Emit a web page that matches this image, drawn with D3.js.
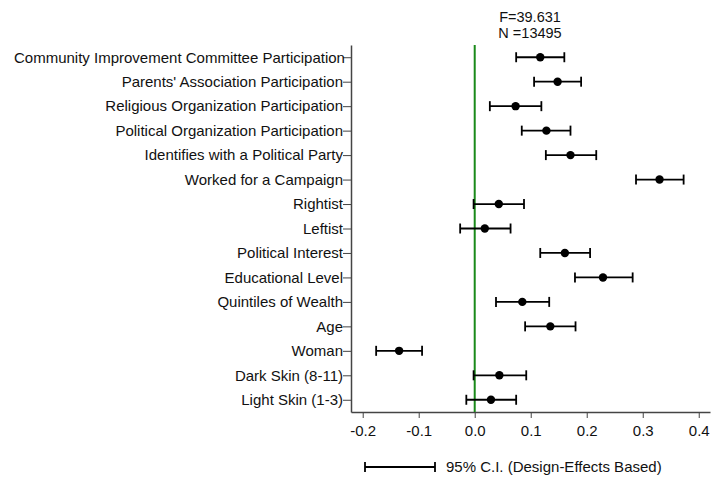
<!DOCTYPE html>
<html>
<head>
<meta charset="utf-8">
<script src="https://cdn.jsdelivr.net/npm/d3@7.9.0/dist/d3.min.js"></script>
<style>
  body { margin: 0; background: #fff; }
  text { font-family: "Liberation Sans", Arial, sans-serif; fill: #111; }
</style>
</head>
<body>
<svg id="chart" width="722" height="481"></svg>
<script>
// categories, top to bottom
const labels = [
  "Community Improvement Committee Participation",
  "Parents' Association Participation",
  "Religious Organization Participation",
  "Political Organization Participation",
  "Identifies with a Political Party",
  "Worked for a Campaign",
  "Rightist",
  "Leftist",
  "Political Interest",
  "Educational Level",
  "Quintiles of Wealth",
  "Age",
  "Woman",
  "Dark Skin (8-11)",
  "Light Skin (1-3)"
];
const estimates = [0.117, 0.148, 0.073, 0.128, 0.171, 0.330, 0.043, 0.018, 0.161, 0.229, 0.085, 0.135, -0.135, 0.044, 0.029];
const lower     = [0.074, 0.106, 0.027, 0.084, 0.127, 0.288, -0.002, -0.026, 0.117, 0.179, 0.038, 0.090, -0.176, -0.002, -0.015];
const upper     = [0.160, 0.190, 0.119, 0.171, 0.217, 0.373, 0.088, 0.064, 0.206, 0.282, 0.133, 0.180, -0.094, 0.092, 0.074];
const xTicks = [-0.2, -0.1, 0.0, 0.1, 0.2, 0.3, 0.4];
const statF = "F=39.631";
const statN = "N =13495";
const legendText = "95% C.I. (Design-Effects Based)";

const svg = d3.select('#chart');
const plotLeft = 351, plotRight = 710, plotTop = 45, plotBottom = 412;
const fontSize = '15px';

const x = d3.scaleLinear().domain([-0.2209, 0.4201]).range([plotLeft, plotRight]);
const y = d3.scalePoint().domain(labels).range([plotTop, plotBottom]).padding(0.5);

// axes
const axisColor = '#444';
const yAxis = svg.append('g')
  .attr('transform', `translate(${plotLeft},0)`)
  .call(d3.axisLeft(y).tickSize(8).tickSizeOuter(0));
yAxis.select('.domain').attr('stroke', axisColor).attr('stroke-width', 1.5);
yAxis.selectAll('.tick line').attr('stroke', axisColor);
yAxis.selectAll('.tick text')
  .attr('x', -8)
  .style('font-size', fontSize)
  .style('font-family', '"Liberation Sans", Arial, sans-serif')
  .attr('fill', '#111')
  .each(function () {
    // long labels get pushed right so they stay inside the left margin
    const b = this.getBBox();
    const minX = 14 - plotLeft;
    if (b.x < minX) d3.select(this).attr('x', -8 + (minX - b.x));
  });

const xAxis = svg.append('g')
  .attr('transform', `translate(0,${plotBottom})`)
  .call(d3.axisBottom(x).tickValues(xTicks).tickFormat(d => d.toFixed(1)).tickSize(6).tickSizeOuter(0));
xAxis.select('.domain').attr('stroke', axisColor).attr('stroke-width', 1.5);
xAxis.selectAll('.tick line').attr('stroke', axisColor);
xAxis.selectAll('.tick text')
  .attr('dy', '1.0em')
  .style('font-size', fontSize)
  .style('font-family', '"Liberation Sans", Arial, sans-serif')
  .attr('fill', '#111');

// zero reference line
svg.append('line')
  .attr('x1', x(0)).attr('x2', x(0))
  .attr('y1', plotTop).attr('y2', plotBottom)
  .attr('stroke', '#1a8a1a').attr('stroke-width', 2);

// error bars + points
const rows = labels.map((l, i) => ({ label: l, est: estimates[i], lo: lower[i], hi: upper[i] }));
const g = svg.append('g');
const capH = 5;
rows.forEach(d => {
  const cy = y(d.label);
  g.append('line').attr('x1', x(d.lo)).attr('x2', x(d.hi)).attr('y1', cy).attr('y2', cy)
    .attr('stroke', '#000').attr('stroke-width', 1.8);
  [d.lo, d.hi].forEach(v => {
    g.append('line').attr('x1', x(v)).attr('x2', x(v)).attr('y1', cy - capH).attr('y2', cy + capH)
      .attr('stroke', '#000').attr('stroke-width', 1.8);
  });
  g.append('circle').attr('cx', x(d.est)).attr('cy', cy).attr('r', 4.2).attr('fill', '#000');
});

// stats text
svg.append('text').attr('x', 530).attr('y', 22).attr('text-anchor', 'middle')
  .style('font-size', '14.5px').text(statF);
svg.append('text').attr('x', 530).attr('y', 38).attr('text-anchor', 'middle')
  .style('font-size', '14.5px').text(statN);

// legend
const ly = 467;
svg.append('line').attr('x1', 365).attr('x2', 435).attr('y1', ly).attr('y2', ly)
  .attr('stroke', '#000').attr('stroke-width', 1.8);
[365, 435].forEach(v => {
  svg.append('line').attr('x1', v).attr('x2', v).attr('y1', ly - capH).attr('y2', ly + capH)
    .attr('stroke', '#000').attr('stroke-width', 1.8);
});
svg.append('text').attr('x', 446).attr('y', ly + 5)
  .style('font-size', fontSize).text(legendText);
</script>
</body>
</html>
